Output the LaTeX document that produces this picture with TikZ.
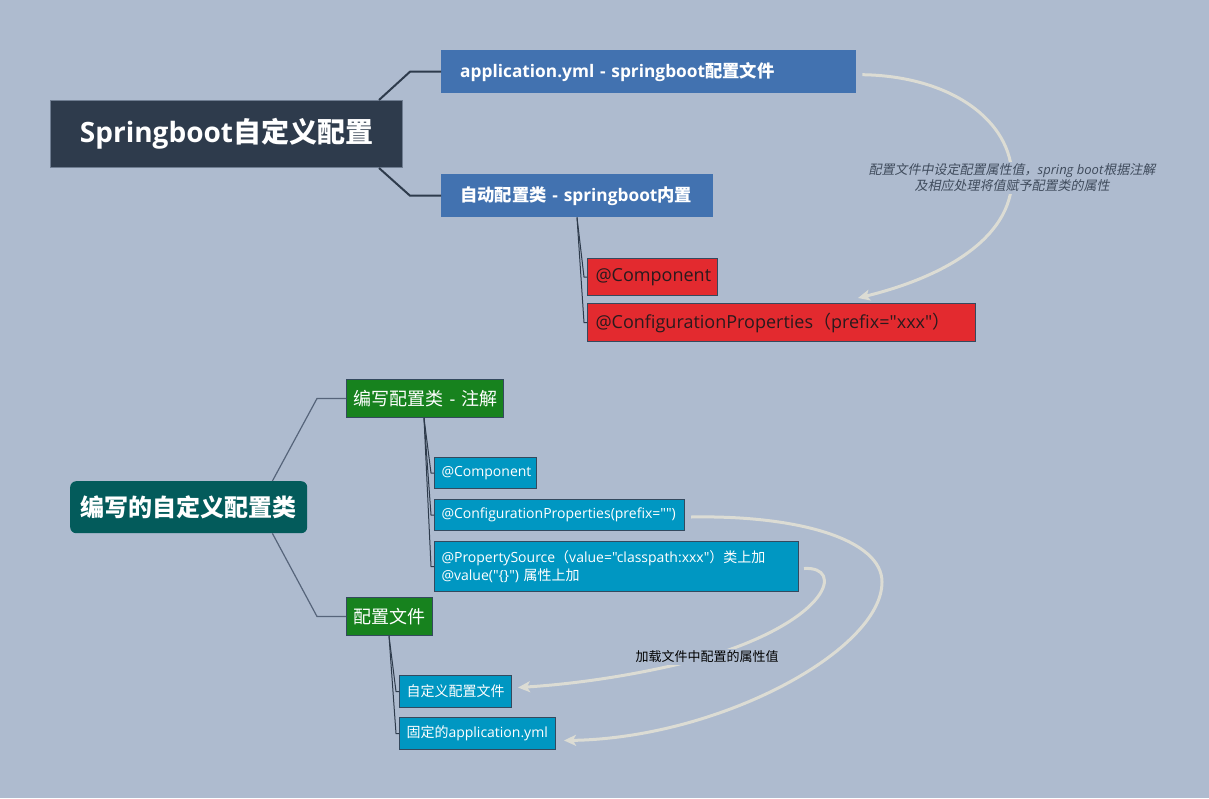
\documentclass[tikz,border=0pt]{standalone}
\usepackage{fontspec}
\setmainfont{Open Sans}[Ligatures=TeXOff]
\newfontfamily\cjk{Noto Sans CJK SC}
\newfontfamily\cjkit{Noto Sans CJK SC}[FakeSlant=0.2]
\usetikzlibrary{arrows.meta,positioning}
\definecolor{mmbg}{HTML}{AEBBCF}
\definecolor{slate}{HTML}{2E3B4C}
\definecolor{slateline}{HTML}{6F7D91}
\definecolor{azure}{HTML}{4272B0}
\definecolor{scarlet}{HTML}{E32A2F}
\definecolor{redtext}{HTML}{2A1A1D}
\definecolor{leaf}{HTML}{17821E}
\definecolor{pine}{HTML}{035B5B}
\definecolor{sky}{HTML}{0097C2}
\definecolor{edge}{HTML}{34495E}
\definecolor{branch}{HTML}{56647A}
\definecolor{flowc}{HTML}{DCDCD4}
\definecolor{notec}{HTML}{3F4B5C}
\newcommand{\zh}[1]{{\cjk #1}}
\newcommand{\zhi}[1]{{\cjkit #1}}
\hyphenpenalty=10000
\tikzset{
  rootbox/.style={fill=slate, draw=slateline, line width=1pt, text=white,
                  font=\fontsize{28}{34}\selectfont\bfseries, align=center, inner sep=0pt},
  pinebox/.style={fill=pine, rounded corners=6pt, text=white,
                  font=\fontsize{24}{30}\selectfont\bfseries, align=center, inner sep=0pt},
  topbox/.style={fill=azure, text=white, font=\fontsize{17.3}{22}\selectfont\bfseries,
                 align=left, inner xsep=19pt, inner ysep=0pt, minimum height=43pt},
  redbox/.style={fill=scarlet, draw=edge, line width=1pt, text=redtext,
                 font=\fontsize{18}{22}\selectfont, align=left, inner xsep=8pt, inner ysep=0pt},
  leafbox/.style={fill=leaf, draw=edge, line width=1pt, text=white, minimum height=38pt,
                  font=\fontsize{18}{22}\selectfont, align=left, inner xsep=7pt, inner ysep=0pt},
  skybox/.style={fill=sky, draw=edge, line width=1pt, text=white,
                 font=\fontsize{14}{18}\selectfont, align=left, inner xsep=7pt, inner ysep=0pt},
  trunk/.style={draw=slate, line width=2pt},
  twig/.style={draw=slate, line width=1pt},
  branchl/.style={draw=branch, line width=1.2pt},
  flow/.style={draw=flowc, line width=3pt, -{Stealth[length=12pt,width=11pt,inset=3pt]}},
  note/.style={anchor=center, fill=mmbg, inner sep=2pt, align=center}}

\begin{document}
\begin{tikzpicture}[x=1pt, y=-1pt, tw/.style={text width=#1},
                    every node/.append style={anchor=north west}]
  \fill[mmbg] (0,0) rectangle (1209,798);
  \useasboundingbox (0,0) rectangle (1209,798);

  \node[rootbox, minimum width=352pt, minimum height=67pt] (r1) at (50,100)
    {Springboot\zh{自定义配置}};
  \node[topbox, tw=377pt] (a1) at (441,50) {\mbox{application.yml - springboot\zh{配置文件}}};
  \node[topbox, tw=234pt] (a2) at (441,174) {\mbox{\zh{自动配置类} - springboot\zh{内置}}};
  \node[redbox, tw=114pt, minimum height=37pt] (c1) at (587,258) {@Component};
  \node[redbox, tw=372pt, minimum height=38pt, below=7pt of c1.south west, anchor=north west] (c2)
    {@ConfigurationProperties\zh{（}prefix="xxx"\zh{）}};

  \draw[trunk] ([xshift=-24pt]r1.north east) -- ([xshift=-31pt]a1.west) -- (a1.west);
  \draw[trunk] ([xshift=-24pt]r1.south east) -- ([xshift=-31pt]a2.west) -- (a2.west);
  \draw[twig] ([xshift=136pt]a2.south west) -- ([xshift=-3pt]c1.west) -- (c1.west);
  \draw[twig] ([xshift=136pt]a2.south west) -- ([xshift=-3pt]c2.west) -- (c2.west);

  \draw[flow] ([shift={(6,3)}]a1.east) .. controls (950,76) and (1012,120) .. (1012,178)
    node[note, text=notec, font=\fontsize{13}{16}\selectfont\itshape] (n1)
      {\zhi{配置文件中设定配置属性值，}spring boot\zhi{根据注解}\\\zhi{及相应处理将值赋予配置类的属性}}
    .. controls (1012,240) and (940,278) .. ([shift={(271,-5)}]c2.north west);

  \node[pinebox, minimum width=237pt, minimum height=52pt] (r2) at (70,481)
    {\zh{编写的自定义配置类}};
  \node[leafbox, tw=143pt] (b1) at (346,379) {\mbox{\zh{编写配置类} - \zh{注解}}};
  \node[leafbox, tw=72pt] (b2) at (346,597) {\zh{配置文件}};
  \node[skybox, tw=88pt, minimum height=31pt] (d1) at (434,457) {@Component};
  \node[skybox, tw=236pt, minimum height=31pt, below=10pt of d1.south west, anchor=north west] (d2)
    {@ConfigurationProperties(prefix="")};
  \node[skybox, tw=350pt, minimum height=50pt, below=10pt of d2.south west, anchor=north west] (d3)
    {@PropertySource\zh{（}value="classpath:xxx"\zh{）类上加}\\@value("\{\}") \zh{属性上加}};
  \node[skybox, tw=98pt, minimum height=32pt] (e1) at (399,675) {\zh{自定义配置文件}};
  \node[skybox, tw=142pt, minimum height=32pt, below=9pt of e1.south west, anchor=north west] (e2)
    {\zh{固定的}application.yml};

  \draw[branchl] ([xshift=-35pt]r2.north east) -- ([xshift=-29pt]b1.west) -- (b1.west);
  \draw[branchl] ([xshift=-35pt]r2.south east) -- ([xshift=-29pt]b2.west) -- (b2.west);
  \draw[twig] ([xshift=78pt]b1.south west) -- ([xshift=-3pt]d1.west) -- (d1.west);
  \draw[twig] ([xshift=78pt]b1.south west) -- ([xshift=-3pt]d2.west) -- (d2.west);
  \draw[twig] ([xshift=78pt]b1.south west) -- ([xshift=-3pt]d3.west) -- (d3.west);
  \draw[twig] ([xshift=43pt]b2.south west) -- ([xshift=-3pt]e1.west) -- (e1.west);
  \draw[twig] ([xshift=43pt]b2.south west) -- ([xshift=-3pt]e2.west) -- (e2.west);

  \draw[flow] ([shift={(6,2)}]d2.east) .. controls (800,515) and (882,540) .. (882,582)
    .. controls (882,650) and (720,738) .. ([shift={(8,7)}]e2.east);
  \draw[flow] ([shift={(5,2)}]d3.east) .. controls (845,566) and (830,620) .. (707,657)
    node[note, text=black, font=\fontsize{13}{16}\selectfont] (n2) {\zh{加载文件中配置的属性值}}
    .. controls (640,675) and (575,684) .. ([shift={(6,-4)}]e1.east);
\end{tikzpicture}
\end{document}
